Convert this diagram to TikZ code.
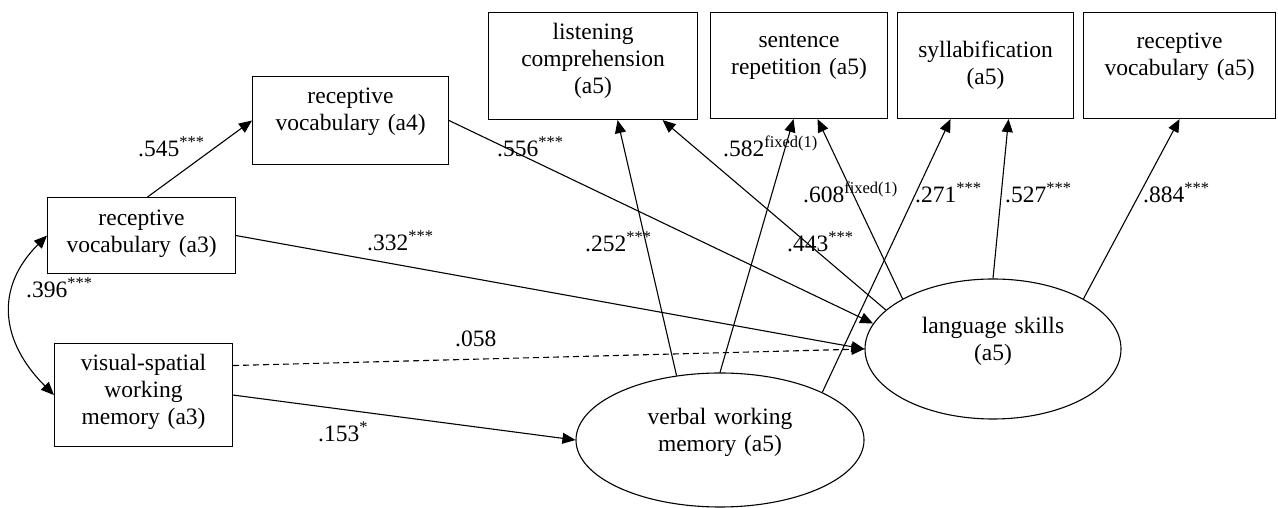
\documentclass[tikz,border=0pt]{standalone}
\usepackage{fontspec}
\setmainfont{Liberation Serif}
\usetikzlibrary{shapes.geometric, arrows.meta}

\begin{document}
\begin{tikzpicture}[x=1pt, y=1pt,
  font=\fontsize{23.5}{27}\selectfont,
  obs/.style={draw, line width=1.1pt, align=center, inner sep=0pt, anchor=north west},
  lat/.style={draw, ellipse, line width=1.1pt, align=center, inner sep=0pt,
    text width=170pt, text height=16pt, text depth=46pt},
  arr/.style={line width=1.1pt, -{Triangle[length=13pt, width=11pt]}},
  cov/.style={line width=1.1pt, {Triangle[length=13pt, width=11pt]}-{Triangle[length=13pt, width=11pt]}},
  coef/.style={anchor=base west, inner sep=0pt}]
  \useasboundingbox (0,0) rectangle (1278,508);

  % observed variables
  \node[obs, text width=188pt, text height=28pt, text depth=48pt] (rvc) at (47,311) {receptive\\vocabulary (a3)};
  \node[obs, text width=196pt, text height=27pt, text depth=61pt] (rvd) at (252,432) {receptive\\vocabulary (a4)};
  \node[obs, text width=178pt, text height=27pt, text depth=76pt] (vs) at (54,165) {visual-spatial\\working\\memory (a3)};
  \node[obs, text width=209pt, text height=27pt, text depth=80pt] (lc) at (488,496) {listening\\comprehension\\(a5)};
  \node[obs, text width=177pt, text height=35pt, text depth=71pt] (sr) at (710,496) {sentence\\repetition (a5)};
  \node[obs, text width=176pt, text height=45pt, text depth=61pt] (sy) at (897,496) {syllabification\\(a5)};
  \node[obs, text width=192pt, text height=36pt, text depth=70pt] (rve) at (1083,496) {receptive\\vocabulary (a5)};

  % latent variables
  \node[lat, minimum width=256pt, minimum height=140pt] (lang) at (993,159) {language skills\\(a5)};
  \node[lat, minimum width=288pt, minimum height=134pt] (verbal) at (720,68) {verbal working\\memory (a5)};

  % paths
  \draw[arr] ([xshift=6pt]rvc.north) -- (rvd.west);
  \draw[arr] (rvd.east) -- (lang.168);
  \draw[arr] (rvc.east) -- (lang.west);
  \draw[arr, dash pattern=on 6pt off 4pt] ([yshift=29.5pt]vs.east) -- (lang.west);
  \draw[arr] (vs.east) -- (verbal.west);
  \draw[arr] (verbal.124) -- ([xshift=24.5pt]lc.south);
  \draw[arr] (lang.160) -- ([xshift=69.5pt]lc.south);
  \draw[arr] (verbal.north) -- ([xshift=-5.5pt]sr.south);
  \draw[arr] (lang.151) -- ([xshift=18.5pt]sr.south);
  \draw[arr] (verbal.25) -- ([xshift=-35pt]sy.south);
  \draw[arr] (lang.north) -- ([xshift=23pt]sy.south);
  \draw[arr] (lang.29) -- (rve.south);
  \draw[cov] (rvc.west) to[out=225, in=135, looseness=1.2] (vs.west);

  % coefficients
  \node[coef] (c545) at (138,351) {.545\textsuperscript{***}};
  \node[coef] (c556) at (497,351) {.556\textsuperscript{***}};
  \node[coef] (c332) at (367,257) {.332\textsuperscript{***}};
  \node[coef] (c396) at (26,210) {.396\textsuperscript{***}};
  \node[coef] (c058) at (455,161) {.058};
  \node[coef] (c153) at (318,66) {.153\textsuperscript{*}};
  \node[coef] (c252) at (585,256) {.252\textsuperscript{***}};
  \node[coef] (c582) at (723,351) {.582\textsuperscript{fixed(1)}};
  \node[coef] (c608) at (803,305) {.608\textsuperscript{fixed(1)}};
  \node[coef] (c443) at (787,256) {.443\textsuperscript{***}};
  \node[coef] (c271) at (915,305) {.271\textsuperscript{***}};
  \node[coef] (c527) at (1005,305) {.527\textsuperscript{***}};
  \node[coef] (c884) at (1143,305) {.884\textsuperscript{***}};
\end{tikzpicture}
\end{document}
